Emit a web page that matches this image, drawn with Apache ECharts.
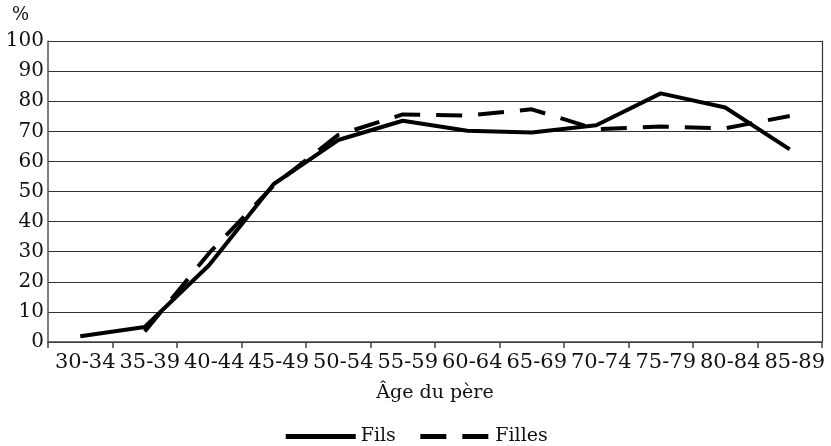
<!DOCTYPE html>
<html>
<head>
<meta charset="utf-8">
<script src="https://cdn.jsdelivr.net/npm/echarts@6/dist/echarts.min.js"></script>
<style>
  html, body { margin: 0; padding: 0; background: #fff; }
  #main { width: 831px; height: 446px; }
</style>
</head>
<body>
<div id="main"></div>
<script>
// tranches d'âge du père
var categories = ['30-34', '35-39', '40-44', '45-49', '50-54', '55-59',
  '60-64', '65-69', '70-74', '75-79', '80-84', '85-89'];
var fils = [1.9, 5.0, 25.6, 52.5, 67.1, 73.5, 70.2, 69.6, 72.0, 82.6, 77.9, 64.0];
var filles = ['-', 3.5, 29.6, 52.0, 68.8, 75.6, 75.2, 77.3, 70.7, 71.6, 71.0, 75.1];
var yTicks = { min: 0, max: 100, interval: 10 };

var font = 'DejaVu Serif';
var chart = echarts.init(document.getElementById('main'));

var option = {
  animation: false,
  backgroundColor: '#fff',
  textStyle: { fontFamily: font, color: '#111' },
  grid: { left: 48, right: 9, top: 41, bottom: 104, containLabel: false },
  legend: {
    top: 422,
    left: 'center',
    itemWidth: 70,
    itemHeight: 20,
    itemGap: 22,
    itemStyle: { opacity: 0 },
    lineStyle: { width: 5 },
    textStyle: { fontFamily: font, fontSize: 19, color: '#111' },
    data: ['Fils', 'Filles']
  },
  xAxis: {
    type: 'category',
    data: categories,
    boundaryGap: true,
    name: 'Âge du père',
    nameLocation: 'middle',
    nameGap: 42,
    nameTextStyle: { fontFamily: font, fontSize: 19, color: '#111' },
    axisLine: { lineStyle: { color: '#444', width: 1.5 } },
    axisTick: { show: true, length: 6, lineStyle: { color: '#444', width: 1.5 } },
    axisLabel: {
      interval: 0,
      margin: 10,
      fontFamily: font,
      fontSize: 21,
      color: '#111',
      padding: [0, 0, 0, 10]
    },
    splitLine: { show: false }
  },
  yAxis: [{
    type: 'value',
    min: yTicks.min,
    max: yTicks.max,
    interval: yTicks.interval,
    name: '%',
    nameLocation: 'end',
    nameGap: 17,
    nameTextStyle: { fontFamily: font, fontSize: 18, color: '#111', align: 'right', padding: [0, 19, 0, 0] },
    axisLine: { show: true, lineStyle: { color: '#555', width: 1.5 } },
    axisTick: { show: false },
    axisLabel: { margin: 4, fontFamily: font, fontSize: 20, color: '#111' },
    splitLine: { show: true, lineStyle: { color: '#333', width: 1.2 } }
  }, {
    type: 'value',
    position: 'right',
    min: yTicks.min,
    max: yTicks.max,
    interval: yTicks.interval,
    axisLine: { show: true, lineStyle: { color: '#333', width: 1.2 } },
    axisTick: { show: false },
    axisLabel: { show: false },
    splitLine: { show: false }
  }],
  series: [
    {
      name: 'Fils',
      type: 'line',
      data: fils,
      showSymbol: false,
      symbol: 'none',
      lineStyle: { color: '#000', width: 4 },
      itemStyle: { color: '#000' }
    },
    {
      name: 'Filles',
      type: 'line',
      data: filles,
      showSymbol: false,
      symbol: 'none',
      lineStyle: { color: '#000', width: 4, type: [26, 16] },
      itemStyle: { color: '#000' }
    }
  ]
};

chart.setOption(option);
</script>
</body>
</html>
